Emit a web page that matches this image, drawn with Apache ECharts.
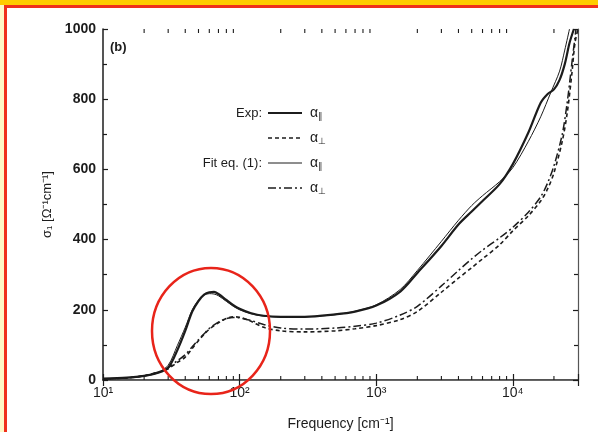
<!DOCTYPE html>
<html>
<head>
<meta charset="utf-8">
<script src="https://cdn.jsdelivr.net/npm/echarts@6/dist/echarts.min.js"></script>
<style>
  html, body { margin: 0; padding: 0; background: #fff; }
  #chart { width: 598px; height: 432px; }
</style>
</head>
<body>
<div id="chart"></div>
<script>
// values (frequency in cm^-1, sigma_1 in 1/(Ohm cm))
const expParFreq = [10, 15, 20, 25, 30, 35, 40, 45, 50, 55, 60, 65, 70, 80, 90, 100, 120, 150, 200, 300, 500, 700, 1000, 1500, 2000, 3000, 4000, 5000, 6000, 8000, 10000, 13000, 16000, 18000, 20000, 22000, 24000, 26000, 28000]
const expParVal = [4, 7, 12, 20, 35, 85, 140, 195, 225, 243, 250, 251, 245, 228, 213, 203, 191, 183, 180, 180, 187, 195, 212, 252, 305, 382, 443, 480, 510, 558, 615, 705, 790, 815, 828, 855, 900, 960, 1000]

const expPerpFreq = [10, 15, 20, 25, 30, 35, 40, 45, 50, 55, 60, 70, 80, 90, 100, 120, 150, 200, 300, 500, 700, 1000, 1500, 2000, 3000, 4000, 5000, 6000, 8000, 10000, 13000, 16000, 18000, 20000, 23000, 25000, 27000, 28500, 30000]
const expPerpVal = [3, 6, 12, 22, 32, 50, 65, 90, 112, 130, 145, 163, 175, 180, 179, 168, 150, 140, 137, 140, 146, 155, 172, 195, 250, 290, 320, 345, 385, 425, 468, 510, 545, 590, 680, 760, 870, 960, 1000]

const fitParFreq = [10, 15, 20, 25, 30, 35, 40, 45, 50, 55, 60, 65, 70, 80, 90, 100, 120, 150, 200, 300, 500, 700, 1000, 1500, 2000, 3000, 4000, 5000, 6000, 8000, 10000, 13000, 16000, 19000, 22000, 24000, 26000]
const fitParVal = [3, 6, 11, 20, 42, 98, 150, 200, 228, 242, 246, 245, 240, 224, 210, 200, 189, 182, 179, 180, 186, 196, 214, 258, 312, 395, 455, 497, 525, 565, 605, 680, 750, 820, 880, 940, 1000]

const fitPerpFreq = [10, 15, 20, 25, 30, 35, 40, 45, 50, 55, 60, 70, 80, 90, 100, 120, 150, 200, 300, 500, 700, 1000, 1500, 2000, 3000, 4000, 5000, 6000, 8000, 10000, 13000, 16000, 18000, 20000, 23000, 25000, 27000, 29000]
const fitPerpVal = [3, 6, 12, 22, 35, 55, 72, 95, 115, 132, 147, 165, 175, 178, 177, 170, 158, 148, 145, 148, 153, 162, 185, 210, 268, 312, 345, 370, 405, 435, 478, 522, 562, 610, 700, 790, 900, 1000]

const minorFreqTicks = [20, 30, 40, 50, 60, 70, 80, 90, 200, 300, 400, 500, 600, 700, 800, 900, 2000, 3000, 4000, 5000, 6000, 7000, 8000, 9000, 20000]
const xTickLabels = { 10: '10¹', 100: '10²', 1000: '10³', 10000: '10⁴' }

const ink = '#1c1c1c'
const font = 'Liberation Sans, Arial, sans-serif'

function zip(xs, ys) {
  return xs.map((x, i) => [x, ys[i]])
}

const chart = echarts.init(document.getElementById('chart'))

const alphaRich = {
  a: { fontSize: 14, fontFamily: font, fill: ink },
  s: { fontSize: 9, fontFamily: font, fill: ink, padding: [8, 0, 0, 0] }
}

const option = {
  animation: false,
  backgroundColor: '#fff',
  grid: { left: 103, right: 20, top: 29, bottom: 52, outerBoundsMode: 'none', containLabel: false },
  xAxis: [
    {
      type: 'log',
      logBase: 10,
      min: 10,
      max: 30000,
      name: 'Frequency [cm⁻¹]',
      nameLocation: 'middle',
      nameGap: 37,
      nameTextStyle: { color: ink, fontSize: 14, fontFamily: font },
      axisLine: { lineStyle: { color: ink, width: 1.5 } },
      axisTick: { inside: true, length: 6, lineStyle: { color: ink, width: 1.2 } },
      axisLabel: {
        color: ink, fontSize: 14, fontFamily: font, margin: 6,
        formatter: v => xTickLabels[Math.round(v)] || ''
      },
      splitLine: { show: false }
    },
    {
      type: 'log',
      logBase: 10,
      min: 10,
      max: 30000,
      position: 'top',
      axisLine: { lineStyle: { color: '#666', width: 1.2 } },
      axisTick: { inside: true, length: 6, lineStyle: { color: ink, width: 1.2 } },
      axisLabel: { show: false },
      splitLine: { show: false }
    }
  ],
  yAxis: [
    {
      type: 'value',
      min: 0,
      max: 1000,
      interval: 200,
      name: 'σ₁ [Ω⁻¹cm⁻¹]',
      nameLocation: 'middle',
      nameGap: 45,
      nameTextStyle: { color: ink, fontSize: 13, fontFamily: font },
      axisLine: { show: true, lineStyle: { color: ink, width: 1.5 } },
      axisTick: { show: true, inside: true, length: 5, lineStyle: { color: ink, width: 1.2 } },
      minorTick: { show: true, splitNumber: 2, length: 4, lineStyle: { color: ink, width: 1.2 } },
      axisLabel: { color: ink, fontSize: 14, fontWeight: 'bold', fontFamily: font, margin: 7, formatter: v => String(v) },
      splitLine: { show: false }
    },
    {
      type: 'value',
      min: 0,
      max: 1000,
      interval: 200,
      position: 'right',
      axisLine: { show: true, lineStyle: { color: '#555', width: 1.2 } },
      axisTick: { show: true, inside: true, length: 5, lineStyle: { color: ink, width: 1.2 } },
      minorTick: { show: true, splitNumber: 2, length: 4, lineStyle: { color: ink, width: 1.2 } },
      axisLabel: { show: false },
      splitLine: { show: false }
    }
  ],
  series: [
    {
      name: 'Exp par',
      type: 'line',
      data: zip(expParFreq, expParVal),
      showSymbol: false,
      smooth: 0.3,
      lineStyle: { color: ink, width: 2.2 }
    },
    {
      name: 'Exp perp',
      type: 'line',
      data: zip(expPerpFreq, expPerpVal),
      showSymbol: false,
      smooth: 0.3,
      lineStyle: { color: ink, width: 1.6, type: [4, 3] }
    },
    {
      name: 'Fit par',
      type: 'line',
      data: zip(fitParFreq, fitParVal),
      showSymbol: false,
      smooth: 0.3,
      lineStyle: { color: ink, width: 1 }
    },
    {
      name: 'Fit perp',
      type: 'line',
      data: zip(fitPerpFreq, fitPerpVal),
      showSymbol: false,
      smooth: 0.3,
      lineStyle: { color: ink, width: 1.5, type: [8, 3, 2, 3] }
    },
    {
      // minor ticks of the log axis, bottom and top
      type: 'custom',
      silent: true,
      data: minorFreqTicks.map(f => [f, 0]),
      renderItem: function (params, api) {
        const p = api.coord([api.value(0), 0])
        const cs = params.coordSys
        const st = { stroke: ink, lineWidth: 1.1 }
        return {
          type: 'group',
          children: [
            { type: 'line', shape: { x1: p[0], y1: cs.y + cs.height, x2: p[0], y2: cs.y + cs.height - 4 }, style: st },
            { type: 'line', shape: { x1: p[0], y1: cs.y, x2: p[0], y2: cs.y + 4 }, style: st }
          ]
        }
      }
    }
  ],
  graphic: [
    // page frame
    { type: 'rect', shape: { x: 0, y: 0, width: 598, height: 5 }, style: { fill: '#FFCC00' } },
    { type: 'rect', shape: { x: 0, y: 5, width: 4, height: 427 }, style: { fill: '#FFF8C6' } },
    { type: 'rect', shape: { x: 4, y: 5, width: 594, height: 3 }, style: { fill: '#F0301C' } },
    { type: 'rect', shape: { x: 4, y: 5, width: 3, height: 427 }, style: { fill: '#F0301C' } },
    // panel label
    { type: 'text', style: { text: '(b)', x: 110, y: 47, font: 'bold 13px ' + font, fill: ink, verticalAlign: 'middle' } },
    // legend
    { type: 'text', style: { text: 'Exp:', x: 262, y: 113, font: '13px ' + font, fill: ink, align: 'right', verticalAlign: 'middle' } },
    { type: 'text', style: { text: 'Fit eq. (1):', x: 262, y: 163, font: '13px ' + font, fill: ink, align: 'right', verticalAlign: 'middle' } },
    { type: 'line', shape: { x1: 268, y1: 113, x2: 302, y2: 113 }, style: { stroke: ink, lineWidth: 2.2 } },
    { type: 'line', shape: { x1: 268, y1: 138, x2: 302, y2: 138 }, style: { stroke: ink, lineWidth: 1.6, lineDash: [4, 3] } },
    { type: 'line', shape: { x1: 268, y1: 163, x2: 302, y2: 163 }, style: { stroke: ink, lineWidth: 1 } },
    { type: 'line', shape: { x1: 268, y1: 188, x2: 302, y2: 188 }, style: { stroke: ink, lineWidth: 1.5, lineDash: [8, 3, 2, 3] } },
    { type: 'text', style: { text: '{a|α}{s|∥}', x: 310, y: 113, verticalAlign: 'middle', rich: alphaRich } },
    { type: 'text', style: { text: '{a|α}{s|⊥}', x: 310, y: 138, verticalAlign: 'middle', rich: alphaRich } },
    { type: 'text', style: { text: '{a|α}{s|∥}', x: 310, y: 163, verticalAlign: 'middle', rich: alphaRich } },
    { type: 'text', style: { text: '{a|α}{s|⊥}', x: 310, y: 188, verticalAlign: 'middle', rich: alphaRich } },
    // red annotation circle
    { type: 'ellipse', shape: { cx: 211, cy: 331, rx: 59, ry: 63 }, style: { fill: 'none', stroke: '#E8241A', lineWidth: 2.5 }, z: 100 }
  ]
}

chart.setOption(option)
</script>
</body>
</html>
